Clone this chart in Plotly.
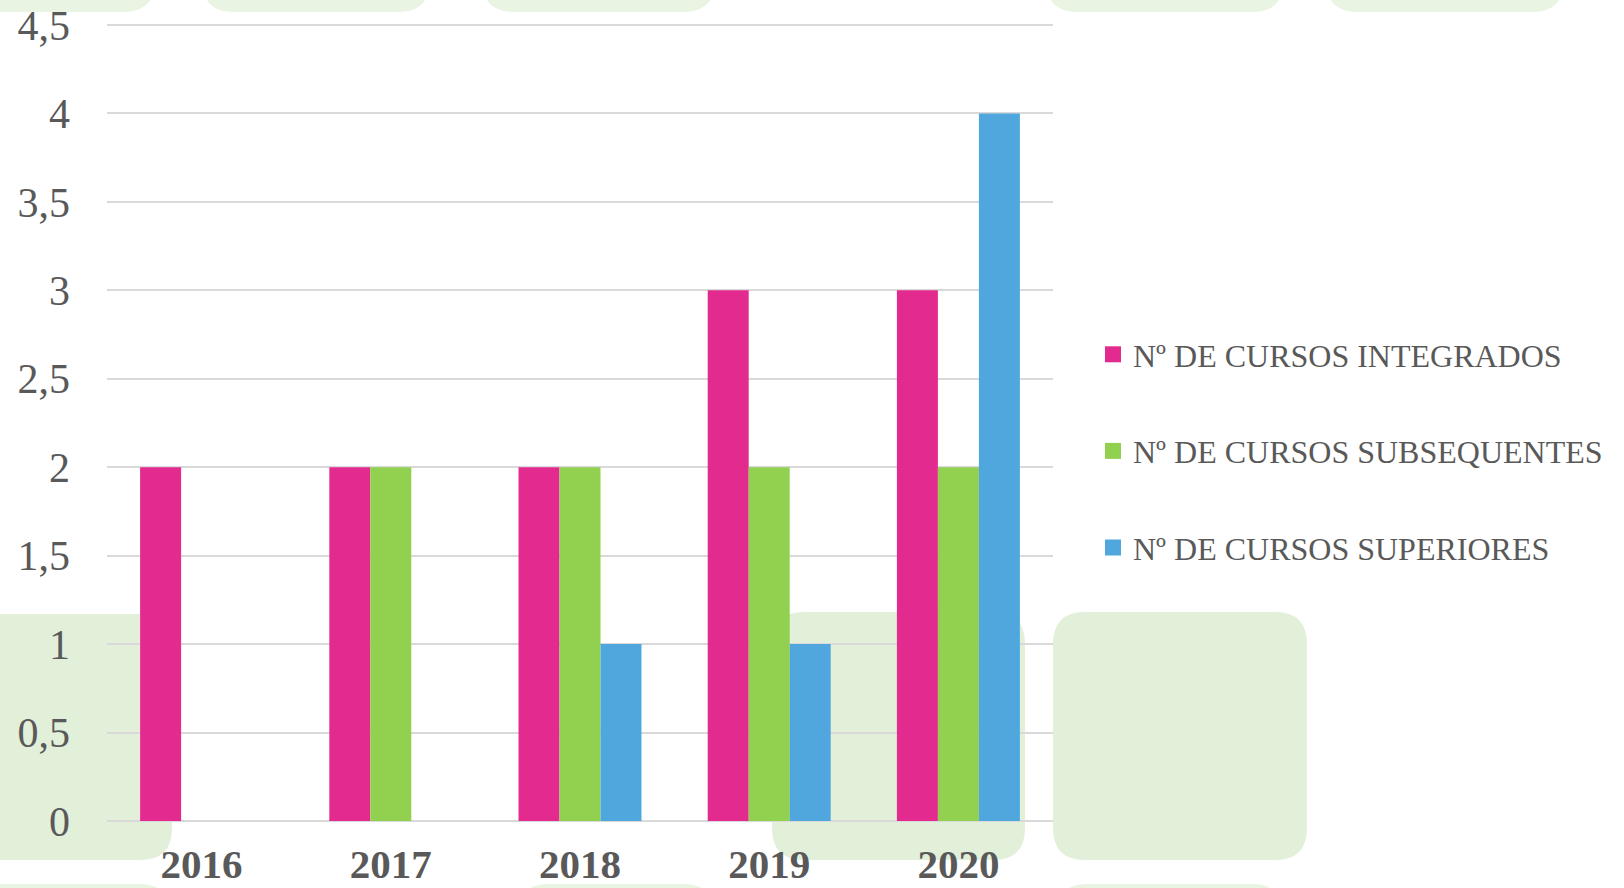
import plotly.graph_objects as go

years = ["2016", "2017", "2018", "2019", "2020"]
integrados = [2, 2, 2, 3, 3]
subsequentes = [0, 2, 2, 2, 2]
superiores = [0, 0, 1, 1, 4]
series_names = ["Nº DE CURSOS INTEGRADOS", "Nº DE CURSOS SUBSEQUENTES", "Nº DE CURSOS SUPERIORES"]
series_colors = ["#E32B8F", "#92D050", "#4FA7DD"]
ytick_vals = [0, 0.5, 1, 1.5, 2, 2.5, 3, 3.5, 4, 4.5]
ytick_text = ["0", "0,5", "1", "1,5", "2", "2,5", "3", "3,5", "4", "4,5"]

W, H = 1624, 888
ML, MR, MT, MB = 107, 571, 21, 67
PW, PH = W - ML - MR, H - MT - MB
Y_TOP = 4.5 * PH / (PH - 4)  # keeps the 4,5 gridline 4 px inside the plot area

def px(x):
    return (x - ML) / PW

def py(y):
    return 1 - (y - MT) / PH

def rounded(x0, y0, x1, y1, r=32):
    rx, ry = r / PW, r / PH
    X0, X1 = px(x0), px(x1)
    Y0, Y1 = py(y0), py(y1)
    return (f"M{X0+rx},{Y0} L{X1-rx},{Y0} Q{X1},{Y0} {X1},{Y0-ry} "
            f"L{X1},{Y1+ry} Q{X1},{Y1} {X1-rx},{Y1} L{X0+rx},{Y1} "
            f"Q{X0},{Y1} {X0},{Y1+ry} L{X0},{Y0-ry} Q{X0},{Y0} {X0+rx},{Y0} Z")

deco_main = [(-40, 614, 172, 860), (772, 612, 1025, 860), (1053, 612, 1307, 860)]
deco_faint = [(-40, -100, 155, 12), (202, -100, 430, 12), (482, -100, 715, 12),
              (1046, -100, 1284, 12), (1326, -100, 1564, 12),
              (-40, 884, 171, 990), (517, 884, 715, 990), (1056, 884, 1284, 990)]

shapes = []
for (a, b, c, d) in deco_main:
    shapes.append(dict(type="path", xref="paper", yref="paper", path=rounded(a, b, c, d),
                       fillcolor="#E2EFD9", line=dict(width=0), layer="below"))
for (a, b, c, d) in deco_faint:
    shapes.append(dict(type="path", xref="paper", yref="paper", path=rounded(a, b, c, d),
                       fillcolor="#EAF4E3", line=dict(width=0), layer="below"))

fig = go.Figure()
for name, vals, col in zip(series_names, [integrados, subsequentes, superiores], series_colors):
    fig.add_trace(go.Bar(x=years, y=vals, name=name, marker=dict(color=col, line=dict(width=0)),
                         legendgroup=name, showlegend=False))
# legend entries (larger square swatches, as in the reference)
for name, col in zip(series_names, series_colors):
    fig.add_trace(go.Scatter(x=[None], y=[None], mode="markers", name=name, legendgroup=name,
                             marker=dict(symbol="square", size=16, color=col), showlegend=True))

fig.update_layout(
    width=W, height=H,
    margin=dict(l=ML, r=MR, t=MT, b=MB, autoexpand=False),
    paper_bgcolor="white", plot_bgcolor="rgba(0,0,0,0)",
    barmode="group", bargap=0.35, bargroupgap=0,
    separators=", ",
    shapes=shapes,
    showlegend=True,
    legend=dict(x=px(1093), xanchor="left", y=py(451), yanchor="middle",
                traceorder="grouped", tracegroupgap=52, itemsizing="trace",
                font=dict(family="Liberation Serif", size=32, color="#595959"),
                bgcolor="rgba(0,0,0,0)", itemclick=False, itemdoubleclick=False),
    xaxis=dict(showgrid=False, showline=False, zeroline=False, automargin=False,
               tickfont=dict(family="Liberation Serif", size=41, color="#595959", weight="bold"),
               ticklabelstandoff=15),
    yaxis=dict(range=[0, Y_TOP], tickvals=ytick_vals, ticktext=ytick_text, automargin=False,
               showgrid=True, gridcolor="#D9D9D9", gridwidth=1.5,
               zeroline=True, zerolinecolor="#D9D9D9", zerolinewidth=1.5,
               showline=False,
               tickfont=dict(family="Liberation Serif", size=42, color="#595959"),
               ticklabelstandoff=36),
)

fig.write_html("out.html", config={"displayModeBar": False},
               post_script="document.body.style.margin='0';document.body.style.overflow='hidden';")
